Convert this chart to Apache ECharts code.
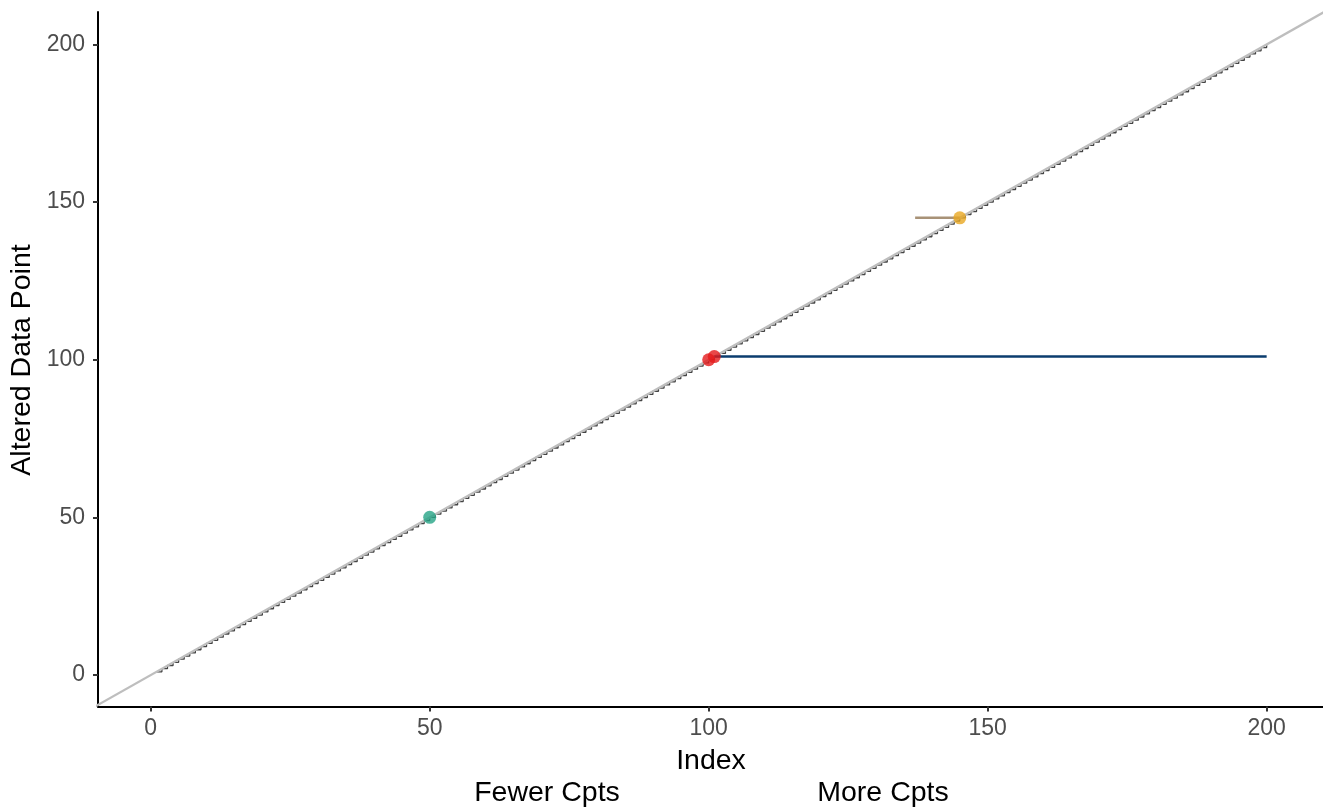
<!DOCTYPE html>
<html>
<head>
<meta charset="utf-8">
<script src="https://cdn.jsdelivr.net/npm/echarts@6/dist/echarts.min.js"></script>
<style>html,body{margin:0;padding:0;background:#fff;}#c{width:1323px;height:808px;}</style>
</head>
<body>
<div id="c"></div>
<script>
// ---- data ----
const indexVals = [1,2,3,4,5,6,7,8,9,10,11,12,13,14,15,16,17,18,19,20,21,22,23,24,25,26,27,28,29,30,31,32,33,34,35,36,37,38,39,40,41,42,43,44,45,46,47,48,49,50,51,52,53,54,55,56,57,58,59,60,61,62,63,64,65,66,67,68,69,70,71,72,73,74,75,76,77,78,79,80,81,82,83,84,85,86,87,88,89,90,91,92,93,94,95,96,97,98,99,100,101,102,103,104,105,106,107,108,109,110,111,112,113,114,115,116,117,118,119,120,121,122,123,124,125,126,127,128,129,130,131,132,133,134,135,136,137,138,139,140,141,142,143,144,145,146,147,148,149,150,151,152,153,154,155,156,157,158,159,160,161,162,163,164,165,166,167,168,169,170,171,172,173,174,175,176,177,178,179,180,181,182,183,184,185,186,187,188,189,190,191,192,193,194,195,196,197,198,199,200];
const alteredVals = [1,2,3,4,5,6,7,8,9,10,11,12,13,14,15,16,17,18,19,20,21,22,23,24,25,26,27,28,29,30,31,32,33,34,35,36,37,38,39,40,41,42,43,44,45,46,47,48,49,50,51,52,53,54,55,56,57,58,59,60,61,62,63,64,65,66,67,68,69,70,71,72,73,74,75,76,77,78,79,80,81,82,83,84,85,86,87,88,89,90,91,92,93,94,95,96,97,98,99,100,101,102,103,104,105,106,107,108,109,110,111,112,113,114,115,116,117,118,119,120,121,122,123,124,125,126,127,128,129,130,131,132,133,134,135,136,137,138,139,140,141,142,143,144,145,146,147,148,149,150,151,152,153,154,155,156,157,158,159,160,161,162,163,164,165,166,167,168,169,170,171,172,173,174,175,176,177,178,179,180,181,182,183,184,185,186,187,188,189,190,191,192,193,194,195,196,197,198,199,200];
// identity reference line endpoints
const ablineX = [-20, 220];
const ablineY = [-20, 220];
// highlighted points
const greenPts = [[50, 50]];
const redPts = [[100, 100], [101, 101]];
const orangePts = [[145, 145]];
// horizontal segments
const blueSegX = [101, 200], blueSegY = [101, 101];
const tanSegX = [137, 145], tanSegY = [145, 145];
// ticks
const xTicks = [0, 50, 100, 150, 200];
const yTicks = [0, 50, 100, 150, 200];

const chart = echarts.init(document.getElementById('c'), null, {renderer: 'canvas'});
const FONT = '"Liberation Sans", Arial, sans-serif';
const stepData = indexVals.map((x, i) => [x, alteredVals[i]]);
const pair = (xs, ys) => xs.map((x, i) => [x, ys[i]]);

chart.setOption({
  animation: false,
  backgroundColor: '#ffffff',
  grid: {left: 98, right: 0, top: 12, bottom: 101.5, containLabel: false},
  xAxis: {
    type: 'value', min: -9.45, max: 210.1,
    splitLine: {show: false},
    axisLine: {show: true, onZero: false, lineStyle: {color: '#000', width: 2}},
    axisTick: {show: true, length: 5, lineStyle: {color: '#333', width: 2}, customValues: xTicks},
    axisLabel: {color: '#4d4d4d', fontSize: 23, fontFamily: FONT, margin: 11, customValues: xTicks, hideOverlap: false}
  },
  yAxis: {
    type: 'value', min: -10, max: 210.3,
    splitLine: {show: false},
    axisLine: {show: true, onZero: false, lineStyle: {color: '#000', width: 2}},
    axisTick: {show: true, length: 5, lineStyle: {color: '#333', width: 2}, customValues: yTicks},
    axisLabel: {color: '#4d4d4d', fontSize: 23, fontFamily: FONT, margin: 13, customValues: yTicks}
  },
  graphic: [
    {type: 'text', style: {text: 'Index', x: 711, y: 761, fontSize: 28.5, fontFamily: FONT, fill: '#000', textAlign: 'center', textVerticalAlign: 'middle'}},
    {type: 'text', style: {text: 'Fewer Cpts', x: 547, y: 793, fontSize: 28.5, fontFamily: FONT, fill: '#000', textAlign: 'center', textVerticalAlign: 'middle'}},
    {type: 'text', style: {text: 'More Cpts', x: 883, y: 793, fontSize: 28.5, fontFamily: FONT, fill: '#000', textAlign: 'center', textVerticalAlign: 'middle'}},
    {type: 'text', x: 22, y: 360, rotation: Math.PI / 2, style: {text: 'Altered Data Point', x: 0, y: 0, fontSize: 28.5, fontFamily: FONT, fill: '#000', textAlign: 'center', textVerticalAlign: 'middle'}}
  ],
  series: [
    {type: 'line', data: stepData, step: 'end', showSymbol: false, clip: true, z: 2,
      lineStyle: {color: '#444444', width: 1.3}},
    {type: 'line', data: pair(ablineX, ablineY), showSymbol: false, clip: true, z: 3,
      lineStyle: {color: '#bebebe', width: 2.2}},
    {type: 'line', data: pair(blueSegX, blueSegY), showSymbol: false, z: 4,
      lineStyle: {color: '#0b3c6e', width: 2.5}},
    {type: 'line', data: pair(tanSegX, tanSegY), showSymbol: false, z: 4,
      lineStyle: {color: '#a89277', width: 2.5}},
    {type: 'scatter', data: greenPts, symbolSize: 13, z: 5, itemStyle: {color: '#26a486'}},
    {type: 'scatter', data: orangePts, symbolSize: 13, z: 5, itemStyle: {color: '#e9a722'}},
    {type: 'scatter', data: redPts, symbolSize: 13, z: 5, itemStyle: {color: '#e41a1c', opacity: 0.8}}
  ]
});
</script>
</body>
</html>
